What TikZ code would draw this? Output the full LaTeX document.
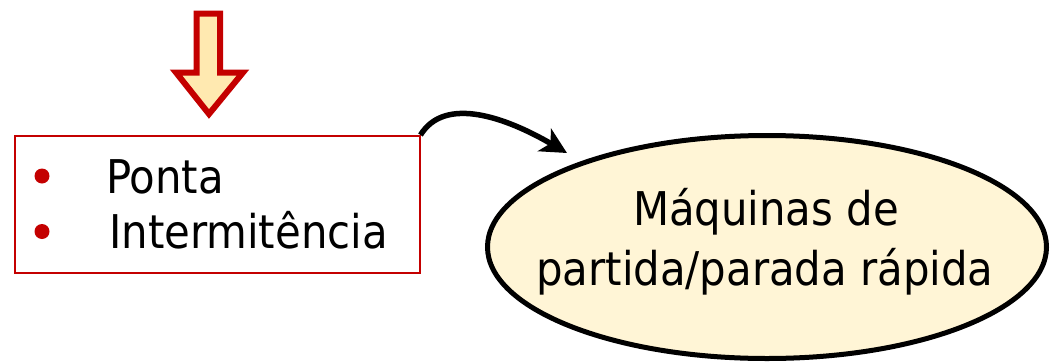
\documentclass[tikz,border=0pt]{standalone}
\usepackage{fontspec}
\newfontfamily\tfont{DejaVu Sans Condensed}
\usetikzlibrary{arrows.meta,shapes.geometric}
\definecolor{boxred}{RGB}{196,0,0}
\definecolor{arrowfill}{RGB}{255,233,176}
\definecolor{ellfill}{RGB}{255,245,214}
\tikzset{
  txt/.style={inner sep=0pt, font=\tfont\fontsize{46.5}{56}\selectfont},
  bullet/.style={circle, fill=boxred, inner sep=0pt, minimum size=15pt},
}
\begin{document}
\begin{tikzpicture}[x=1pt,y=-1pt]
\useasboundingbox (0,0) rectangle (1050,362);
% block arrow
\draw[draw=boxred, fill=arrowfill, line width=6pt, line join=miter]
  (196.5,13.5) -- (220,13.5) -- (220,72.5) -- (243,72.5) -- (209,114)
  -- (176,72.5) -- (196.5,72.5) -- cycle;
% box
\node[draw=boxred, line width=1.5pt, minimum width=405pt, minimum height=137pt,
      inner sep=0pt, anchor=north west] (box) at (14,135) {};
\node[bullet] (b1) at (42,176) {};
\node[bullet] (b2) at (42,231.5) {};
\node[txt, anchor=base west] (t1) at (106,193) {Ponta};
\node[txt, anchor=base west] (t2) at (109,248) {Intermitência};
% ellipse
\node[draw=black, fill=ellfill, line width=5pt, ellipse, minimum width=559pt,
      minimum height=223pt, inner sep=0pt] (ell) at (767,247) {};
\node[txt, anchor=base] (e1) at (766,225) {Máquinas de};
\node[txt, anchor=base] (e2) at (765,285) {partida/parada rápida};
% curved connector
\coordinate (tip) at (567,153);
\draw[line width=5.5pt, -{Stealth[length=26pt, width=26pt, inset=7pt]}]
  (box.north east) .. controls (445,95) and (507,118) .. (tip);
\end{tikzpicture}
\end{document}
